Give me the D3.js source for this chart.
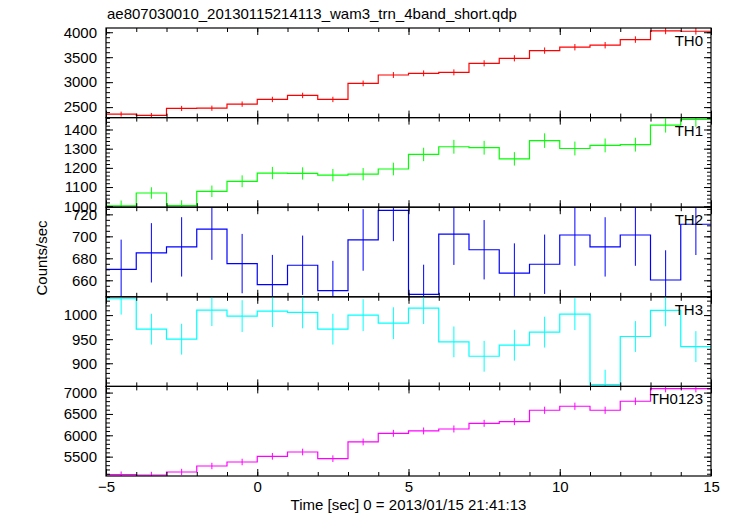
<!DOCTYPE html>
<html><head><meta charset="utf-8">
<script src="https://cdn.jsdelivr.net/npm/d3@7"></script>
<style>body{margin:0;background:#fff}svg{display:block;font-family:"Liberation Sans",Arial,Helvetica,sans-serif}</style>
</head><body>
<svg id="chart" width="733" height="516"></svg>
<script>
// ---------------- data ----------------
const titleText = "ae807030010_20130115214113_wam3_trn_4band_short.qdp";
const xLabelText = "Time [sec] 0 = 2013/01/15 21:41:13";
const yLabelText = "Counts/sec";
const timeCenters = [-4.5,-3.5,-2.5,-1.5,-0.5,0.5,1.5,2.5,3.5,4.5,5.5,6.5,7.5,8.5,9.5,10.5,11.5,12.5,13.5,14.5];
const timeHalfWidth = 0.5;
const timeDomain = [-5, 15];
const timeMajorTicks = [-5, 0, 5, 10, 15];
const timeMinorTicks = d3.range(-5, 16, 1);

const bandNames = ["TH0", "TH1", "TH2", "TH3", "TH0123"];
const bandColors = ["#ff0000", "#00ff00", "#0000ff", "#00ffff", "#ff00ff"];

const th0Values = [2360,2333,2473,2478,2560,2654,2734,2654,2975,3143,3176,3196,3377,3478,3632,3700,3740,3853,4027,4020];
const th0Errors = [50,50,52,52,53,54,55,54,57,59,59,60,61,62,63,64,64,65,67,67];
const th1Values = [1002,1069,1003,1078,1130,1173,1171,1162,1167,1194,1270,1310,1305,1247,1342,1301,1317,1321,1423,1453];
const th1Errors = [28,30,28,30,31,32,32,32,32,33,35,36,36,35,38,36,36,36,39,39];
const th2Values = [670,685,690.4,706.6,675.2,656.1,673.7,650.7,696.7,723.6,647.2,702,687.8,666.6,674.6,701.2,690.4,701.2,660.3,711];
const th2Errors = [27,27,27,28,27,27,27,27,28,28,27,28,27,27,27,28,27,28,27,28];
const th3Values = [1034,970.8,950,1010.4,998,1008.3,1005.6,970.8,1000,983.3,1014.6,944.4,914.6,937.5,964.6,1002,855.6,955.6,1009.7,934.7];
const th3Errors = [33,32,32,33,33,33,33,32,33,33,33,32,32,32,32,33,31,32,33,32];
const th0123Values = [5078,5070,5141,5281,5375,5508,5609,5453,5844,6047,6102,6148,6281,6320,6586,6680,6586,6797,7094,7094];
const th0123Errors = [75,75,75,76,77,78,78,77,80,81,81,82,82,83,84,85,84,86,88,88];

const bandValues = [th0Values, th1Values, th2Values, th3Values, th0123Values];
const bandErrors = [th0Errors, th1Errors, th2Errors, th3Errors, th0123Errors];
const bandDomains = [[2290, 4085], [995, 1462], [645, 726.5], [852, 1038], [5047, 7145]];
const bandMajorTicks = [[2500,3000,3500,4000],[1000,1100,1200,1300,1400],[660,680,700,720],[900,950,1000],[5500,6000,6500,7000]];
const bandMinorStep = [100, 20, 5, 10, 100];

// ---------------- layout ----------------
const L = 106, R = 711, T = 28, B = 476;
const nP = bandNames.length;
const pH = (B - T) / nP;
const svg = d3.select("#chart");
const x = d3.scaleLinear().domain(timeDomain).range([L, R]);
const majLen = 7, minLen = 4;

svg.append("text").attr("x", 107).attr("y", 19).attr("font-size", 15).text(titleText);

bandNames.forEach((name, i) => {
  const top = T + i * pH, bot = top + pH;
  const y = d3.scaleLinear().domain(bandDomains[i]).range([bot, top]);
  const g = svg.append("g");
  const clipId = "clip" + i;
  svg.append("clipPath").attr("id", clipId).append("rect")
    .attr("x", L).attr("y", top).attr("width", R - L).attr("height", pH);

  const dg = g.append("g").attr("clip-path", `url(#${clipId})`);
  const vals = bandValues[i], errs = bandErrors[i];
  const pts = vals.map((v, k) => [timeCenters[k] - timeHalfWidth, v]);
  pts.push([timeCenters[timeCenters.length - 1] + timeHalfWidth, vals[vals.length - 1]]);
  const line = d3.line().x(d => x(d[0])).y(d => y(d[1])).curve(d3.curveStepAfter);
  dg.append("path").attr("d", line(pts)).attr("fill", "none")
    .attr("stroke", bandColors[i]).attr("stroke-width", 1.2);
  dg.selectAll("line.err").data(vals).enter().append("line")
    .attr("x1", (d, k) => x(timeCenters[k])).attr("x2", (d, k) => x(timeCenters[k]))
    .attr("y1", (d, k) => y(d - errs[k])).attr("y2", (d, k) => y(d + errs[k]))
    .attr("stroke", bandColors[i]).attr("stroke-width", 1);

  const [d0, d1] = bandDomains[i];
  const minorTicks = d3.range(Math.ceil(d0 / bandMinorStep[i]) * bandMinorStep[i], d1, bandMinorStep[i]);

  const axes = [
    g.append("g").attr("transform", `translate(${L},0)`).call(d3.axisLeft(y).tickValues(bandMajorTicks[i]).tickSize(-majLen).tickPadding(9).tickFormat(d3.format("d"))),
    g.append("g").attr("transform", `translate(${L},0)`).call(d3.axisLeft(y).tickValues(minorTicks).tickSize(-minLen).tickFormat("")),
    g.append("g").attr("transform", `translate(${R},0)`).call(d3.axisRight(y).tickValues(bandMajorTicks[i]).tickSize(-majLen).tickFormat("")),
    g.append("g").attr("transform", `translate(${R},0)`).call(d3.axisRight(y).tickValues(minorTicks).tickSize(-minLen).tickFormat("")),
    g.append("g").attr("transform", `translate(0,${top})`).call(d3.axisTop(x).tickValues(timeMajorTicks).tickSize(-majLen).tickFormat("")),
    g.append("g").attr("transform", `translate(0,${top})`).call(d3.axisTop(x).tickValues(timeMinorTicks).tickSize(-minLen).tickFormat("")),
    g.append("g").attr("transform", `translate(0,${bot})`).call(d3.axisBottom(x).tickValues(timeMinorTicks).tickSize(-minLen).tickFormat("")),
  ];
  if (i === nP - 1) {
    axes.push(g.append("g").attr("transform", `translate(0,${bot})`).call(d3.axisBottom(x).tickValues(timeMajorTicks).tickSize(-majLen).tickPadding(5).tickFormat(d => d < 0 ? "\u2212" + Math.abs(d) : d)));
  } else {
    axes.push(g.append("g").attr("transform", `translate(0,${bot})`).call(d3.axisBottom(x).tickValues(timeMajorTicks).tickSize(-majLen).tickFormat("")));
  }
  axes.forEach(a => {
    a.select(".domain").remove();
    a.selectAll("line").attr("stroke", "#000").attr("stroke-width", 1);
    a.selectAll("text").attr("font-size", 15).attr("font-family", '"Liberation Sans",Arial,sans-serif').attr("fill", "#000");
  });

  g.append("rect").attr("x", L).attr("y", top).attr("width", R - L).attr("height", pH)
    .attr("fill", "none").attr("stroke", "#000").attr("stroke-width", 1.2);

  g.append("text").attr("x", 703).attr("y", top + 18).attr("text-anchor", "end")
    .attr("font-size", 15).text(name);
});

svg.append("text").attr("transform", `translate(47,258) rotate(-90)`).attr("text-anchor", "middle")
  .attr("font-size", 15).text(yLabelText);
svg.append("text").attr("x", (L + R) / 2).attr("y", 510).attr("text-anchor", "middle")
  .attr("font-size", 15).text(xLabelText);
</script>
</body></html>
